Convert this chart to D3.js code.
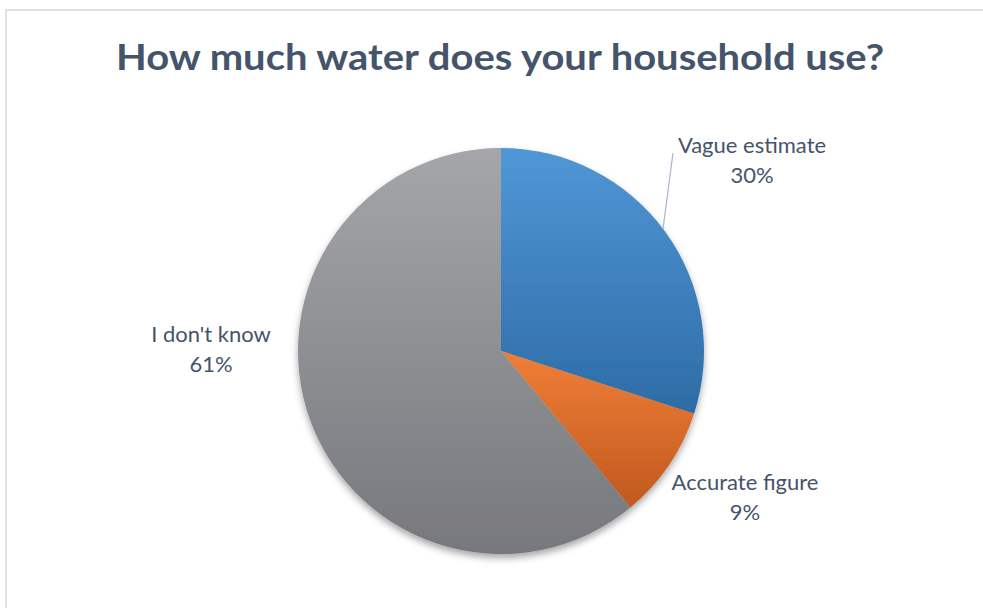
<!DOCTYPE html>
<html>
<head>
<meta charset="utf-8">
<script src="https://cdn.jsdelivr.net/npm/d3@7"></script>
<style>
  html, body { margin: 0; padding: 0; background: #fff; }
  svg { display: block; }
</style>
</head>
<body>
<div id="chart"></div>
<script>
// Survey answers, in drawing order (clockwise from 12 o'clock)
const categories = ["Vague estimate", "Accurate figure", "I don't know"];
const values = [30, 9, 61];
const valueLabels = ["30%", "9%", "61%"];
const title = "How much water does your household use?";

const W = 983, H = 608;
const cx = 501, cy = 351, R = 203;

const svg = d3.select("#chart").append("svg")
  .attr("width", W).attr("height", H);

const defs = svg.append("defs");

// Per-slice vertical gradients: lighter at the top, darker at the bottom
const gradStops = [
  ["#5197D6", "#2D6BA6"],
  ["#F07E37", "#C0591F"],
  ["#A5A6A9", "#77787D"]
];
gradStops.forEach((g, i) => {
  const lg = defs.append("linearGradient")
    .attr("id", "grad" + i)
    .attr("x1", 0).attr("y1", 0).attr("x2", 0).attr("y2", 1);
  lg.append("stop").attr("offset", "0%").attr("stop-color", g[0]);
  lg.append("stop").attr("offset", "100%").attr("stop-color", g[1]);
});

// Soft shadow beneath the pie
const f = defs.append("filter").attr("id", "shadow")
  .attr("x", "-10%").attr("y", "-10%").attr("width", "120%").attr("height", "125%");
f.append("feDropShadow")
  .attr("dx", 0).attr("dy", 4).attr("stdDeviation", 3.5)
  .attr("flood-color", "#000").attr("flood-opacity", 0.35);

// Chart area frame (top and left edges visible)
svg.append("line").attr("x1", 5).attr("y1", 10).attr("x2", W).attr("y2", 10)
  .attr("stroke", "#DDE1E8").attr("stroke-width", 2);
svg.append("line").attr("x1", 6).attr("y1", 9).attr("x2", 6).attr("y2", H)
  .attr("stroke", "#DDE1E8").attr("stroke-width", 2);

// Title
svg.append("text")
  .attr("x", 500).attr("y", 70)
  .attr("text-anchor", "middle")
  .attr("font-family", "Lato, 'Open Sans', sans-serif")
  .attr("font-weight", "bold")
  .attr("font-size", 36)
  .attr("fill", "#44546A")
  .attr("textLength", 768)
  .attr("lengthAdjust", "spacingAndGlyphs")
  .text(title);

const data = categories.map((c, i) => ({ cat: c, value: values[i], label: valueLabels[i], i }));

const pie = d3.pie().sort(null).value(d => d.value)
  .startAngle(0).endAngle(2 * Math.PI);
const arc = d3.arc().innerRadius(0).outerRadius(R);

const g = svg.append("g").attr("transform", `translate(${cx},${cy})`);
g.append("g").attr("filter", "url(#shadow)")
  .selectAll("path")
  .data(pie(data))
  .join("path")
  .attr("d", arc)
  .attr("fill", d => `url(#grad${d.data.i})`);

// Leader line for the top-right label
svg.append("line")
  .attr("x1", 663).attr("y1", 229).attr("x2", 673).attr("y2", 153)
  .attr("stroke", "#A8B6C8").attr("stroke-width", 1.2);

// Data labels: category on the first line, percentage beneath
const labelPos = [
  { x: 752, y: 153 },
  { x: 745, y: 490 },
  { x: 211, y: 342 }
];
const lbl = svg.append("g")
  .attr("font-family", "Lato, 'Open Sans', sans-serif")
  .attr("font-size", 22)
  .attr("fill", "#44546A")
  .attr("text-anchor", "middle");
data.forEach((d, i) => {
  const t = lbl.append("text").attr("x", labelPos[i].x).attr("y", labelPos[i].y);
  t.append("tspan").attr("x", labelPos[i].x).text(d.cat);
  t.append("tspan").attr("x", labelPos[i].x).attr("dy", 30).text(d.label);
});
</script>
</body>
</html>
